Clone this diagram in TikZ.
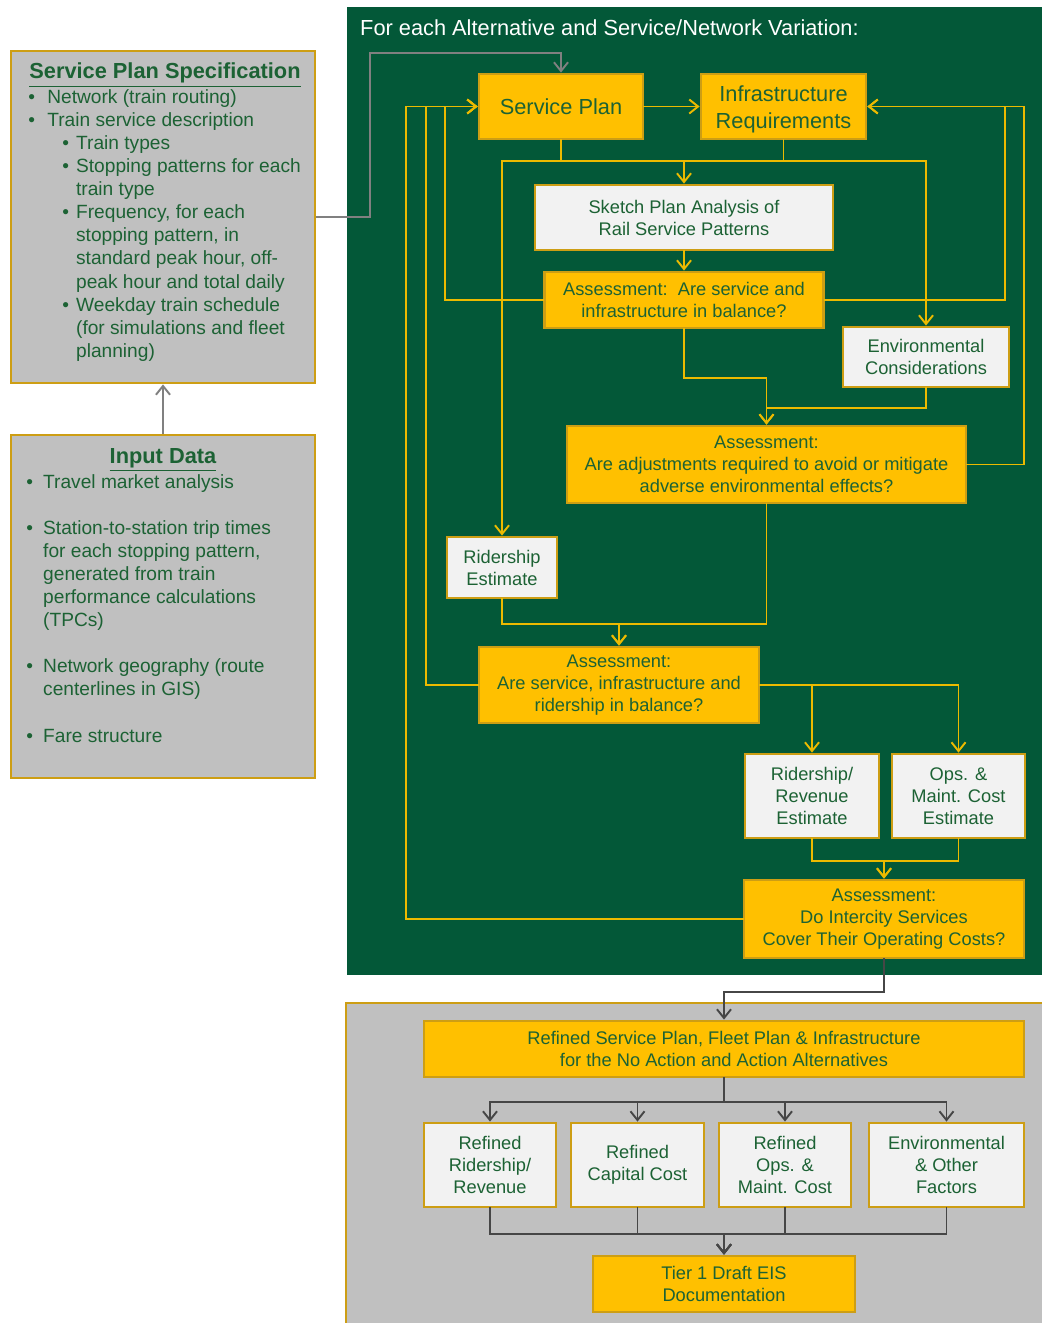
\documentclass[tikz,border=0pt]{standalone}
\usepackage{fontspec}
\setmainfont{Liberation Sans}
\usetikzlibrary{arrows.meta}

\definecolor{panelgreen}{RGB}{3,88,56}
\definecolor{goldfill}{RGB}{255,192,0}
\definecolor{goldedge}{RGB}{205,158,20}
\definecolor{linkyellow}{RGB}{236,186,0}
\definecolor{boxwhite}{RGB}{242,242,242}
\definecolor{panelgray}{RGB}{192,192,192}
\definecolor{textgreen}{RGB}{28,98,52}
\definecolor{linkgray}{RGB}{128,128,128}
\definecolor{linkdark}{RGB}{70,70,70}

\newcommand{\boxfont}{\fontsize{10.4}{12.5}\selectfont}
\newcommand{\bigfont}{\fontsize{12.4}{15.3}\selectfont}
\newcommand{\listfont}{\fontsize{10.9}{13.15}\selectfont}
\newcommand{\headfont}{\fontsize{12.4}{15}\selectfont\bfseries}
% bullets for the two list boxes
\newcommand{\bone}[1][10.8pt]{\makebox[#1][l]{\textbullet}}
\newcommand{\btwo}{\hspace*{19.3pt}\makebox[7.9pt][l]{\textbullet}}
\newcommand{\bcont}[1][27.2pt]{\hspace*{#1}}

\begin{document}
\begin{tikzpicture}[
        x=0.02cm, y=-0.02cm,
        every node/.style={text=textgreen, align=center, font=\boxfont},
        sz/.style 2 args={minimum width=#1*0.02cm, minimum height=#2*0.02cm},
        goldbox/.style={rectangle, draw=goldedge, fill=goldfill, line width=1.6pt, inner sep=2pt},
        whitebox/.style={goldbox, fill=boxwhite},
        graybox/.style={goldbox, fill=panelgray},
        listtext/.style={align=left, font=\listfont, inner sep=0pt, anchor=north west},
        ylink/.style={draw=linkyellow, line width=1.1pt, line cap=rect},
        yarr/.style={ylink, -{Straight Barb[length=5pt,width=8pt]}},
        garr/.style={draw=linkgray, line width=1.1pt, -{Straight Barb[length=5pt,width=8pt]}},
        darr/.style={draw=linkdark, line width=1.1pt, line cap=rect, -{Straight Barb[length=5pt,width=8pt]}}
    ]
    \useasboundingbox (0,0) rectangle (1042,1323);

    % panels
    \fill[panelgreen] (347,7) rectangle (1042,975);
    \filldraw[fill=panelgray, draw=goldedge, line width=1.6pt] (346,1003) rectangle (1070,1350);
    \node[anchor=west, text=white, font=\bigfont] (looptitle) at (354,28) {For each Alternative and Service/Network Variation:};

    % left column
    \node[graybox, sz={304}{332}] (spec) at (163,217) {};
    \node[font=\headfont] (spechead) at (165,75) {\underline{Service Plan Specification}};
    \node[listtext] (speclist) at (28,89) {%
        \bone Network (train routing)\\
        \bone Train service description\\
        \btwo Train types\\
        \btwo Stopping patterns for each\\
        \bcont train type\\
        \btwo Frequency, for each\\
        \bcont stopping pattern, in\\
        \bcont standard peak hour, off-\\
        \bcont peak hour and total daily\\
        \btwo Weekday train schedule\\
        \bcont (for simulations and fleet\\
        \bcont planning)};

    \node[graybox, sz={304}{343}] (input) at (163,606.5) {};
    \node[font=\headfont] (inputhead) at (163,460) {\underline{Input Data}};
    \node[listtext] (inputlist) at (26,474) {%
        \bone[9.6pt]Travel market analysis\\[13.1pt]
        \bone[9.6pt]Station-to-station trip times\\
        \bcont[9.6pt]for each stopping pattern,\\
        \bcont[9.6pt]generated from train\\
        \bcont[9.6pt]performance calculations\\
        \bcont[9.6pt](TPCs)\\[13.1pt]
        \bone[9.6pt]Network geography (route\\
        \bcont[9.6pt]centerlines in GIS)\\[13.1pt]
        \bone[9.6pt]Fare structure};

    % service / network loop
    \node[goldbox, sz={164}{65}, font=\bigfont] (splan) at (561,106.5) {Service Plan};
    \node[goldbox, sz={165}{65}, font=\bigfont] (infra) at (783.5,106.5) {\rule{0pt}{12pt}Infrastructure\\Requirements};
    \node[whitebox, sz={298}{65}] (sketch) at (684,217.5) {Sketch Plan Analysis of\\Rail Service Patterns};
    \node[goldbox, sz={279}{56}] (assess1) at (684,300) {Assessment:\ \ Are service and\\infrastructure in balance?};
    \node[whitebox, sz={166}{60}] (envcons) at (926,357) {Environmental\\Considerations};
    \node[goldbox, sz={399}{77}] (assess2) at (766.5,464.5) {Assessment:\\Are adjustments required to avoid or mitigate\\adverse environmental effects?};
    \node[whitebox, sz={110}{61}] (ridest) at (502,567.5) {Ridership\\Estimate};
    \node[goldbox, sz={280}{76}] (assess3) at (619,685) {Assessment:\\Are service, infrastructure and\\ridership in balance?};
    \node[whitebox, sz={134}{84}] (ridrev) at (812,796) {Ridership/\\Revenue\\Estimate};
    \node[whitebox, sz={133}{84}] (opscost) at (958.5,796) {Ops. \&\\Maint. Cost\\Estimate};
    \node[goldbox, sz={280}{78}] (assess4) at (884,919) {Assessment:\\Do Intercity Services\\Cover Their Operating Costs?};

    % refinement
    \node[goldbox, sz={600}{56}] (refined) at (724,1049) {Refined Service Plan, Fleet Plan \& Infrastructure\\for the No Action and Action Alternatives};
    \node[whitebox, sz={132}{84}] (rfrid) at (490,1165) {Refined\\Ridership/\\Revenue};
    \node[whitebox, sz={133}{84}] (rfcap) at (637.5,1165) {Refined\\Capital Cost};
    \node[whitebox, sz={132}{84}] (rfops) at (785,1165) {Refined\\Ops. \&\\Maint. Cost};
    \node[whitebox, sz={155}{84}] (rfenv) at (946.5,1165) {Environmental\\\& Other\\Factors};
    \node[goldbox, sz={262}{56}] (tier) at (724,1284) {Tier 1 Draft EIS\\Documentation};

    % inputs into the loop
    \draw[garr] (input) -- (spec);
    \draw[garr] (spec.east) -| (370,53) -| (splan.north);

    % top bus
    \coordinate (topbus) at (0,161);
    \draw[ylink] (splan.south) -- (splan.south |- topbus);
    \draw[ylink] (infra.south) -- (infra.south |- topbus);
    \draw[yarr] (ridest.north |- topbus) -- (ridest.north);
    \draw[yarr] (ridest.north |- topbus) -- (envcons.north |- topbus) -- (envcons.north);
    \draw[yarr] (sketch.north |- topbus) -- (sketch.north);
    \draw[yarr] (splan) -- (infra);
    \draw[yarr] (sketch) -- (assess1);

    % feedback to service plan and infrastructure
    \draw[yarr] (assess1.west) -- ++(-98,0) |- (splan.west);
    \draw[yarr] (assess3.west) -- ++(-52,0) |- (splan.west);
    \draw[yarr] (assess4.west) -- ++(-337,0) |- (splan.west);
    \draw[yarr] (assess1.east) -- ++(180,0) |- (infra.east);
    \draw[yarr] (assess2.east) -- ++(57,0) |- (infra.east);

    % down the loop
    \draw[yarr] (assess1.south) -- ++(0,49) -| (assess2.north);
    \draw[yarr] (envcons.south) -- ++(0,20) -| (assess2.north);
    \draw[yarr] (assess2.south) -- ++(0,120) -| (assess3.north);
    \draw[yarr] (ridest.south) -- ++(0,25) -| (assess3.north);
    \draw[yarr] (assess3.east) -| (ridrev.north);
    \draw[yarr] (assess3.east) -| (opscost.north);
    \draw[yarr] (ridrev.south) -- ++(0,22) -| (assess4.north);
    \draw[yarr] (opscost.south) -- ++(0,22) -| (assess4.north);

    % out of the loop
    \draw[darr] (assess4.south) -- ++(0,33) -| (refined.north);
    \foreach \b in {rfrid, rfcap, rfops, rfenv} {
        \draw[darr] (refined.south) -- ++(0,24) -| (\b.north);
        \draw[darr] (\b.south) -- ++(0,26) -| (tier.north);
    }
\end{tikzpicture}
\end{document}
